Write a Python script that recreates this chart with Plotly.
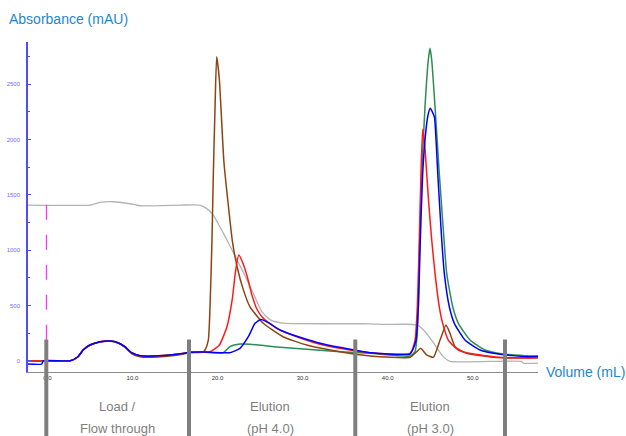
import plotly.graph_objects as go

# ---------------- data ----------------
gray_vol = [-2.27, 5.0, 6.2, 7.7, 9.7, 10.9, 15.6, 17.9, 18.7, 19.5, 20.7, 21.9, 23.0, 24.2,
            25.2, 26.2, 27.7, 37.9, 39.5, 43.4, 44.2, 45.4, 46.5, 47.3, 55.75, 55.9, 57.66]
gray_abs = [1408, 1408, 1432, 1438, 1420, 1402, 1408, 1408, 1378, 1318, 1152, 972, 806, 611,
            445, 370, 340, 334, 328, 325, 280, 160, 39, -6, -6, -21, -21]

green_vol = [-2.27, 2.7, 3.6, 4.2, 5.0, 6.2, 7.4, 8.3, 9.1, 9.9, 10.9, 12.5, 15.2, 16.8, 18.3,
             20.65, 21.46, 22.64, 23.82, 26.56, 30.48, 34.39, 37.92, 42.62, 43.2, 43.41, 43.6,
             43.76, 44.0, 44.38, 44.77, 44.97, 45.17, 45.56, 46.06, 46.62, 46.93, 47.64, 48.3,
             49.67, 51.43, 53.5, 56.33, 57.66]
green_abs = [0, 0, 36, 97, 142, 172, 178, 163, 127, 72, 45, 42, 58, 76, 78,
             72, 127, 151, 150, 127, 103, 81, 67, 43, 80, 187, 488,
             1092, 1695, 2297, 2720, 2826, 2720, 2297, 1695, 1092, 790, 488, 338,
             187, 97, 60, 45, 40]

brown_vol = [-2.27, 2.7, 3.6, 4.2, 5.0, 6.2, 7.4, 8.3, 9.1, 9.9, 10.9, 12.5, 15.2, 16.8, 18.3,
             18.53, 18.92, 19.12, 19.35, 19.51, 19.71, 19.9, 20.21, 20.75, 21.25, 21.75, 22.3,
             23.0, 23.8, 25.35, 27.7, 30.48, 34.39, 37.92, 42.62, 43.41, 43.88, 44.58, 45.36,
             46.15, 46.85, 47.32, 47.91, 49.28, 52.41, 57.66]
brown_abs = [0, 0, 34, 94, 140, 170, 176, 160, 122, 65, 36, 32, 50, 72, 78,
             97, 187, 488, 1092, 1695, 2297, 2750, 2550, 1800, 1420, 1080, 850,
             650, 490, 341, 217, 142, 81, 43, 31, 81, 112, 52, 31,
             187, 323, 248, 127, 67, 31, 28]

red_vol = [-2.27, 2.7, 3.6, 4.2, 5.0, 6.2, 7.4, 8.3, 9.1, 9.9, 10.9, 12.5, 15.2, 16.8, 18.3,
           19.12, 20.2, 21.08, 21.74, 22.1, 22.5, 23.0, 23.5, 24.02, 24.61, 25.38, 26.96,
           29.31, 32.43, 35.57, 37.92, 42.62, 43.21, 43.48, 43.71, 43.91, 44.11, 44.35, 44.58,
           44.85, 45.17, 45.56, 46.06, 46.46, 47.12, 48.3, 50.06, 53.98, 57.66]
red_abs = [0, 0, 36, 97, 142, 172, 178, 163, 127, 72, 45, 42, 58, 76, 78,
           81, 140, 300, 560, 800, 956, 880, 760, 600, 470, 383, 293,
           217, 142, 97, 72, 67, 187, 488, 1092, 1695, 2093, 1950, 1695,
           1393, 1092, 790, 488, 338, 187, 97, 60, 25, 28]

blue_vol = [-2.27, -0.66, -0.47, 2.7, 3.6, 4.2, 5.0, 6.2, 7.4, 8.3, 9.1, 9.9, 10.9, 12.5, 15.2,
            16.8, 18.3, 20.65, 21.46, 22.64, 23.62, 24.41, 25.08, 25.97, 27.34, 29.69, 32.43,
            35.57, 37.92, 42.62, 43.0, 43.33, 43.6, 43.83, 44.11, 44.38, 44.7, 45.0, 45.48,
            45.68, 45.88, 46.11, 46.35, 46.65, 47.24, 47.83, 49.08, 50.85, 53.0, 56.33, 57.66]
blue_abs = [-30, -30, 0, 0, 36, 97, 142, 172, 178, 163, 127, 72, 45, 42, 58,
            76, 78, 72, 72, 112, 217, 338, 374, 344, 278, 212, 151,
            103, 72, 61, 110, 187, 488, 1092, 1695, 1996, 2207, 2283, 2207,
            1996, 1695, 1393, 1092, 790, 488, 338, 187, 97, 60, 36, 40]

y_tick_vals = [0, 500, 1000, 1500, 2000, 2500]
x_tick_vals = [0, 10, 20, 30, 40, 50]

divider_vols = [-0.12, 16.65, 36.19, 53.78]
marker_vol = -0.1
marker_range = [190, 1425]

phase_labels = [("Load /", "Flow through", 8.3), ("Elution", "(pH 4.0)", 26.2),
                ("Elution", "(pH 3.0)", 45.0)]

# ---------------- layout geometry ----------------
W, H = 626, 436
ML, MR, MT, MB = 28, 88, 42, 64
X_RANGE = [-2.27, 57.66]
Y_RANGE = [-102, 2883]


def px_to_paper_x(px):
    return (px - ML) / (W - ML - MR)


def py_to_paper_y(py):
    return (H - MB - py) / (H - MT - MB)


def vol_to_paper_x(v):
    return (v - X_RANGE[0]) / (X_RANGE[1] - X_RANGE[0])


fig = go.Figure()
series = [
    (gray_vol, gray_abs, "#b3b3b3", 1.3),
    (green_vol, green_abs, "#2e8b57", 1.5),
    (brown_vol, brown_abs, "#8b4513", 1.5),
    (red_vol, red_abs, "#ff1a1a", 1.5),
    (blue_vol, blue_abs, "#0000ff", 1.5),
]
for xs, ys, col, w in series:
    fig.add_trace(go.Scatter(x=xs, y=ys, mode="lines",
                             line=dict(color=col, width=w, shape="spline", smoothing=0.5),
                             showlegend=False, hoverinfo="skip"))

# magenta dashed marker
fig.add_shape(type="line", xref="x", yref="y", x0=marker_vol, x1=marker_vol,
              y0=marker_range[0], y1=marker_range[1],
              line=dict(color="#ff33ff", width=1.3, dash="longdash"))

# phase dividers
for v in divider_vols:
    xp = vol_to_paper_x(v)
    fig.add_shape(type="line", xref="paper", yref="paper", x0=xp, x1=xp,
                  y0=py_to_paper_y(339.5), y1=py_to_paper_y(H + 2),
                  line=dict(color="#7f7f7f", width=4), layer="above")

annotations = []
for top, bottom, v in phase_labels:
    for txt, py in ((top, 406), (bottom, 428)):
        annotations.append(dict(text=txt, xref="paper", yref="paper",
                                x=vol_to_paper_x(v), y=py_to_paper_y(py),
                                xanchor="center", yanchor="middle", showarrow=False,
                                font=dict(family="Liberation Sans, Arial", size=13, color="#808080")))
annotations.append(dict(text="Absorbance (mAU)", xref="paper", yref="paper",
                        x=px_to_paper_x(7), y=py_to_paper_y(19), xanchor="left", yanchor="middle",
                        showarrow=False,
                        font=dict(family="Liberation Sans, Arial", size=14, color="#1f86cc")))
annotations.append(dict(text="Volume (mL)", xref="paper", yref="paper",
                        x=px_to_paper_x(544), y=py_to_paper_y(372), xanchor="left", yanchor="middle",
                        showarrow=False,
                        font=dict(family="Liberation Sans, Arial", size=14, color="#1f86cc")))

fig.update_layout(
    width=W, height=H, autosize=False,
    margin=dict(l=ML, r=MR, t=MT, b=MB, pad=0, autoexpand=False),
    paper_bgcolor="white", plot_bgcolor="white",
    annotations=annotations,
    xaxis=dict(range=X_RANGE, showgrid=False, zeroline=False, showline=True, automargin=False,
               linecolor="#8c8c8c", linewidth=1, tickvals=x_tick_vals, tickformat=".1f",
               ticks="", tickfont=dict(family="Liberation Sans, Arial", size=6, color="#333333")),
    yaxis=dict(range=Y_RANGE, showgrid=False, zeroline=False, showline=True, automargin=False,
               linecolor="#4d4dff", linewidth=1.5, tickvals=y_tick_vals,
               ticks="inside", ticklen=3, tickcolor="#4d4dff", ticklabelstandoff=5,
               minor=dict(dtick=250, ticks="inside", ticklen=2, tickcolor="#4d4dff"),
               tickfont=dict(family="Liberation Sans, Arial", size=6, color="#6f6fff")),
)

fig.write_html("out.html", config={"displayModeBar": False},
               post_script="document.body.style.margin='0';")
